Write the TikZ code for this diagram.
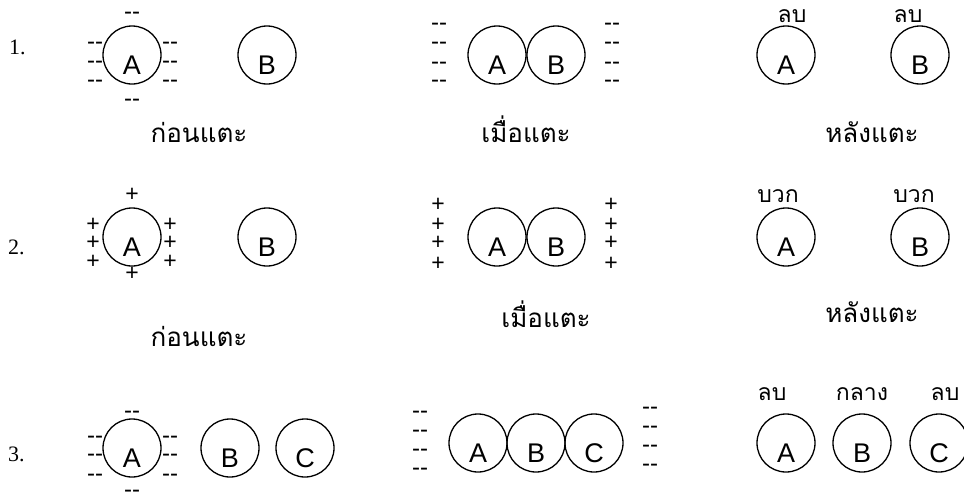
\documentclass[tikz,border=0pt]{standalone}
\usepackage{fontspec}
\setmainfont{Liberation Serif}
\newfontfamily\latinsans{Liberation Sans}
\newfontfamily\thaifont[Script=Thai]{Loma}
\usepackage{tikz}
\usetikzlibrary{positioning}

\begin{document}
\begin{tikzpicture}[
    x=1pt, y=-1pt,
    ball/.style={circle, draw, line width=1.3pt, minimum size=58pt, inner sep=0pt, text height=38pt, text depth=0pt, font=\latinsans\fontsize{27pt}{27pt}\selectfont},
    negmark/.style={anchor=base, yshift=-6.5pt, inner sep=0pt, font=\latinsans\fontsize{24pt}{24pt}\selectfont},
    posmark/.style={anchor=base, yshift=-8.2pt, inner sep=0pt, font=\latinsans\fontsize{23pt}{23pt}\selectfont},
    caption/.style={anchor=base, inner sep=0pt, font=\thaifont\fontsize{26pt}{26pt}\selectfont},
    charge/.style={anchor=base, inner sep=0pt, font=\thaifont\fontsize{23pt}{23pt}\selectfont},
    rownum/.style={anchor=base west, inner sep=0pt, font=\fontsize{22pt}{22pt}\selectfont}
]
    \useasboundingbox (0,0) rectangle (964,498);

    % --- ROW 1: NEGATIVE CHARGE ---
    \node[rownum] (num1) at (9,54) {1.};

    % before touching
    \node[ball] (a1) at (132,55) {A};
    \node[ball] (b1) at (267,55) {B};
    \node[negmark] (a1top) at (132,13) {-{}-};
    \node[negmark] (a1bot) at (132,100) {-{}-};
    \foreach \y [count=\i] in {43,62,81} {
        \node[negmark] (a1l\i) at (95,\y) {-{}-};
        \node[negmark] (a1r\i) at (170,\y) {-{}-};
    }
    \node[caption] (before1) at (199,142) {ก่อนแตะ};

    % touching
    \node[ball] (a1t) at (497,55) {A};
    \node[ball] (b1t) at (556,55) {B};
    \foreach \y [count=\i] in {24,43,63,81} {
        \node[negmark] (t1l\i) at (439,\y) {-{}-};
        \node[negmark] (t1r\i) at (612,\y) {-{}-};
    }
    \node[caption] (touch1) at (526,142) {เมื่อแตะ};

    % after touching
    \node[ball] (a1a) at (786,55) {A};
    \node[ball] (b1a) at (920,55) {B};
    \node[charge] (qa1) at (792,22) {ลบ};
    \node[charge] (qb1) at (908,22) {ลบ};
    \node[caption] (after1) at (872,142) {หลังแตะ};

    % --- ROW 2: POSITIVE CHARGE ---
    \node[rownum] (num2) at (8,254) {2.};

    % before touching
    \node[ball] (a2) at (132,237) {A};
    \node[ball] (b2) at (267,237) {B};
    \node[posmark] (a2top) at (132,193) {+};
    \node[posmark] (a2bot) at (132,272) {+};
    \foreach \y [count=\i] in {223,241,260} {
        \node[posmark] (a2l\i) at (93,\y) {+};
        \node[posmark] (a2r\i) at (170,\y) {+};
    }
    \node[caption] (before2) at (199,346) {ก่อนแตะ};

    % touching
    \node[ball] (a2t) at (497,237) {A};
    \node[ball] (b2t) at (556,237) {B};
    \foreach \y [count=\i] in {203,223,241,262} {
        \node[posmark] (t2l\i) at (438,\y) {+};
        \node[posmark] (t2r\i) at (611,\y) {+};
    }
    \node[caption] (touch2) at (546,327) {เมื่อแตะ};

    % after touching
    \node[ball] (a2a) at (786,237) {A};
    \node[ball] (b2a) at (920,237) {B};
    \node[charge] (qa2) at (778,202) {บวก};
    \node[charge] (qb2) at (914,202) {บวก};
    \node[caption] (after2) at (872,322) {หลังแตะ};

    % --- ROW 3: THREE SPHERES ---
    \node[rownum] (num3) at (8,461) {3.};

    % before touching
    \node[ball] (a3) at (132,448) {A};
    \node[ball] (b3) at (230,448) {B};
    \node[ball] (c3) at (305,448) {C};
    \node[negmark] (a3top) at (132,412) {-{}-};
    \node[negmark] (a3bot) at (132,491) {-{}-};
    \foreach \y [count=\i] in {437,455,475} {
        \node[negmark] (a3l\i) at (95,\y) {-{}-};
        \node[negmark] (a3r\i) at (170,\y) {-{}-};
    }

    % touching
    \node[ball] (a3t) at (478,443) {A};
    \node[ball] (b3t) at (536,443) {B};
    \node[ball] (c3t) at (594,443) {C};
    \foreach \y [count=\i] in {412,431,450,469} {
        \node[negmark] (t3l\i) at (420,\y) {-{}-};
    }
    \foreach \y [count=\i] in {408,427,446,465} {
        \node[negmark] (t3r\i) at (650,\y) {-{}-};
    }

    % after touching
    \node[ball] (a3a) at (786,443) {A};
    \node[ball] (b3a) at (862,443) {B};
    \node[ball] (c3a) at (939,443) {C};
    \node[charge] (qa3) at (772,400) {ลบ};
    \node[charge] (qb3) at (862,400) {กลาง};
    \node[charge] (qc3) at (945,400) {ลบ};

\end{tikzpicture}
\end{document}
